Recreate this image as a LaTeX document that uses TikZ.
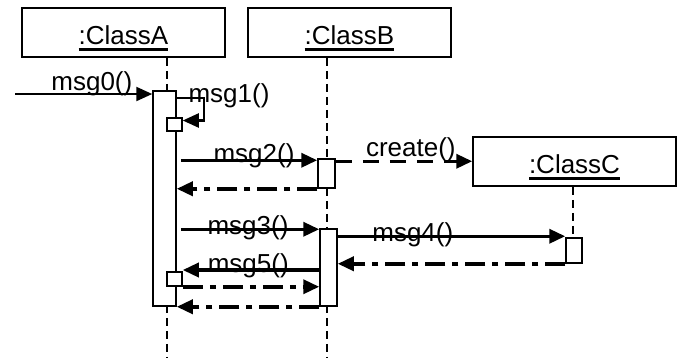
\documentclass[tikz,border=0pt]{standalone}
\usepackage{fontspec}
\setmainfont{Liberation Sans}
\usetikzlibrary{arrows.meta}

\newcommand{\umlfont}{\fontsize{26}{30}\selectfont}
% underlined instance name
\newcommand{\objname}[1]{\setbox0\hbox{#1}\rlap{\rule[-6pt]{\wd0}{2.4pt}}\box0}

\tikzstyle{object} = [
    rectangle,
    draw=black,
    line width=1.5pt,
    minimum width=203pt,
    minimum height=49pt,
    inner sep=0pt,
    text height=24pt,
    text depth=0pt,
    font=\umlfont
]
\tikzstyle{activation} = [
    rectangle,
    draw=black,
    fill=white,
    line width=1.5pt,
    inner sep=0pt
]
\tikzstyle{lifeline} = [
    draw=black,
    line width=1.5pt,
    dash pattern=on 8pt off 5pt
]
\tikzstyle{call} = [
    -{Triangle[length=16pt,width=14pt]},
    line width=3.5pt
]
\tikzstyle{selfcall} = [call, line width=2.2pt]
\tikzstyle{reply} = [call, dash pattern=on 20pt off 7pt on 6pt off 7pt]
\tikzstyle{newmsg} = [call, dash pattern=on 16pt off 11pt]
\tikzstyle{msglabel} = [
    font=\umlfont,
    anchor=base,
    inner sep=0pt
]

\begin{document}
\begin{tikzpicture}[x=1pt, y=-1pt]
    \useasboundingbox (0,0) rectangle (677,357);

    % Objects
    \node[object] (classA) at (123.5,32.5) {\objname{:ClassA}};
    \node[object] (classB) at (349.5,32.5) {\objname{:ClassB}};
    \node[object] (classC) at (574.5,161.5) {\objname{:ClassC}};

    % Lifelines
    \coordinate (endA) at (167,357);
    \coordinate (endB) at (327,357);
    \coordinate (endC) at (573,250);
    \draw[lifeline] (classA.south -| endA) -- (endA);
    \draw[lifeline] (classB.south -| endB) -- (endB);
    \draw[lifeline] (classC.south -| endC) -- (endC);

    % Activation bars
    \node[activation, minimum width=23pt, minimum height=215pt] (actA) at (164.5,198.5) {};
    \node[activation, minimum width=15pt, minimum height=13pt] (actA1) at (174.5,124.5) {};
    \node[activation, minimum width=15pt, minimum height=14pt] (actA2) at (174.5,279) {};
    \node[activation, minimum width=17pt, minimum height=29pt] (actB1) at (326.5,173.5) {};
    \node[activation, minimum width=17pt, minimum height=77pt] (actB2) at (328.5,267.5) {};
    \node[activation, minimum width=16pt, minimum height=25pt] (actC) at (574,250.5) {};

    % Messages
    \coordinate (caller) at (15,94);
    \draw[call, line width=2.2pt] (caller) -- (caller -| actA.west)
        node[msglabel, pos=0.56, yshift=4pt] {msg0()};

    \coordinate (loop) at (204,98);
    \draw[selfcall] (loop -| actA.east) -- (loop) |- ([yshift=4pt]actA1.east);
    \node[msglabel] (msg1) at (229,102) {msg1()};

    \coordinate (m2) at ([yshift=-2pt]actB1.north west);
    \draw[call, shorten <=4pt] (m2 -| actA.east) -- (m2)
        node[msglabel, pos=0.55, yshift=-2pt] {msg2()};

    \coordinate (mc) at ([yshift=-3pt]actB1.north east);
    \draw[newmsg] (mc) -- (mc -| classC.west)
        node[msglabel, pos=0.55, yshift=5pt] {create()};
    \draw[reply] (actB1.south west) -- (actB1.south west -| actA.east);

    \coordinate (m3) at ([yshift=-1pt]actB2.north west);
    \draw[call, shorten <=4pt] (m3 -| actA.east) -- (m3)
        node[msglabel, midway, yshift=-5pt] {msg3()};

    \coordinate (m4) at ([yshift=1pt]actC.north west);
    \draw[call] (m4 -| actB2.east) -- (m4)
        node[msglabel, pos=0.33, yshift=-5pt] {msg4()};
    \draw[reply] (actC.south west) -- (actC.south west -| actB2.east);

    \coordinate (m5) at ([yshift=9pt]actA2.east);
    \draw[call] (m5 -| actB2.west) -- (m5)
        node[msglabel, pos=0.52, yshift=-2pt] {msg5()};
    \draw[reply] (actA2.south east) -- (actA2.south east -| actB2.west);
    \draw[reply] (actB2.south west) -- (actB2.south west -| actA.east);
\end{tikzpicture}
\end{document}
